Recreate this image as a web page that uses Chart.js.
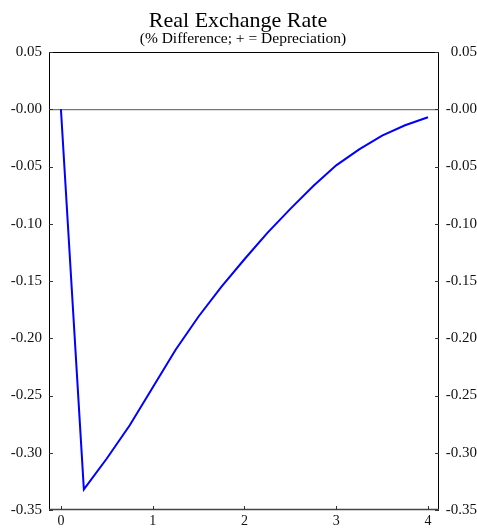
<!DOCTYPE html>
<html>
<head>
<meta charset="utf-8">
<script src="https://cdn.jsdelivr.net/npm/chart.js@4.4.1/dist/chart.umd.min.js"></script>
<style>
  html, body { margin: 0; padding: 0; background: #fff; }
  #wrap { width: 477px; height: 529px; }
</style>
</head>
<body>
<div id="wrap"><canvas id="chart" width="477" height="529"></canvas></div>
<script>
// quarters after the shock (years)
var years = [0, 0.25, 0.5, 0.75, 1, 1.25, 1.5, 1.75, 2, 2.25, 2.5, 2.75, 3, 3.25, 3.5, 3.75, 4];
// real exchange rate, % difference
var rer = [0, -0.332, -0.305, -0.276, -0.243, -0.210, -0.181, -0.155, -0.131, -0.108, -0.087, -0.067, -0.049, -0.035, -0.023, -0.014, -0.007];
// tick labels
var xTicks = [0, 1, 2, 3, 4];
var yTicks = [-0.35, -0.30, -0.25, -0.20, -0.15, -0.10, -0.05, 0, 0.05];

var titleText = 'Real Exchange Rate';
var subtitleText = '(% Difference; + = Depreciation)';

var serif = '"Liberation Serif", "Times New Roman", serif';

function fmt(v) {
	if (Math.abs(v) < 1e-9) return '-0.00';
	return v.toFixed(2);
}

function setTicks(list) {
	return function(scale) {
		scale.ticks = list.map(function(v) { return { value: v }; });
	};
}

// draws the titles, the frame and the small inside tick marks
var framePlugin = {
	id: 'frame',
	afterDraw: function(chart) {
		var c = chart.ctx;
		var a = chart.chartArea;
		c.save();
		c.fillStyle = '#000';
		c.textAlign = 'center';
		c.textBaseline = 'alphabetic';
		c.font = '22px ' + serif;
		c.fillText(titleText, 238, 27);
		c.font = '15.5px ' + serif;
		c.fillText(subtitleText, 243, 43);

		c.strokeStyle = '#000';
		c.lineWidth = 1;
		c.beginPath();
		c.moveTo(a.left + 0.5, a.bottom);
		c.lineTo(a.left + 0.5, a.top + 0.5);
		c.lineTo(a.right - 0.5, a.top + 0.5);
		c.lineTo(a.right - 0.5, a.bottom);
		c.stroke();
		c.strokeStyle = '#444';
		c.lineWidth = 1.5;
		c.beginPath();
		c.moveTo(a.left, a.bottom - 0.5);
		c.lineTo(a.right, a.bottom - 0.5);
		c.stroke();

		c.strokeStyle = '#333';
		c.lineWidth = 1;
		c.beginPath();
		var ys = chart.scales.y;
		yTicks.forEach(function(v) {
			var p = Math.round(ys.getPixelForValue(v)) + 0.5;
			c.moveTo(a.left, p); c.lineTo(a.left + 4, p);
			c.moveTo(a.right - 4, p); c.lineTo(a.right, p);
		});
		var xs = chart.scales.x;
		xTicks.forEach(function(v) {
			var p = Math.round(xs.getPixelForValue(v)) + 0.5;
			c.moveTo(p, a.bottom); c.lineTo(p, a.bottom - 4);
		});
		c.stroke();
		c.restore();
	}
};

var config = {
	type: 'line',
	data: {
		datasets: [{
			label: 'Real Exchange Rate',
			data: years.map(function(x, i) { return { x: x, y: rer[i] }; }),
			borderColor: '#0000ff',
			borderWidth: 2,
			pointRadius: 0,
			tension: 0,
			fill: false
		}]
	},
	options: {
		responsive: false,
		animation: false,
		layout: { padding: { top: 52, left: 0, right: 0, bottom: 0 } },
		plugins: {
			legend: { display: false },
			tooltip: { enabled: false },
			title: { display: false }
		},
		scales: {
			x: {
				type: 'linear',
				position: 'bottom',
				min: -0.13,
				max: 4.12,
				afterBuildTicks: setTicks(xTicks),
				afterFit: function(s) { s.height = 19; },
				border: { display: false },
				grid: { display: false, drawTicks: false },
				ticks: {
					padding: 3,
					color: '#111',
					font: { family: serif, size: 14 },
					maxRotation: 0,
					callback: function(v) { return String(v); }
				}
			},
			y: {
				type: 'linear',
				position: 'left',
				min: -0.35,
				max: 0.05,
				afterBuildTicks: setTicks(yTicks),
				afterFit: function(s) { s.width = 49; },
				border: { display: false },
				grid: {
					drawTicks: false,
					color: function(ctx) { return ctx.tick && Math.abs(ctx.tick.value) < 1e-9 ? '#777' : 'rgba(0,0,0,0)'; },
					lineWidth: 1.2
				},
				ticks: {
					padding: 7,
					color: '#111',
					font: { family: serif, size: 15 },
					callback: function(v) { return fmt(v); }
				}
			},
			y2: {
				type: 'linear',
				position: 'right',
				min: -0.35,
				max: 0.05,
				afterBuildTicks: setTicks(yTicks),
				afterFit: function(s) { s.width = 38; },
				border: { display: false },
				grid: { display: false, drawTicks: false },
				ticks: {
					padding: 8,
					crossAlign: 'far',
					color: '#111',
					font: { family: serif, size: 15 },
					callback: function(v) { return fmt(v); }
				}
			}
		}
	},
	plugins: [framePlugin]
};

var ctx = document.getElementById('chart').getContext('2d');
window.myLine = new Chart(ctx, config);
</script>
</body>
</html>
